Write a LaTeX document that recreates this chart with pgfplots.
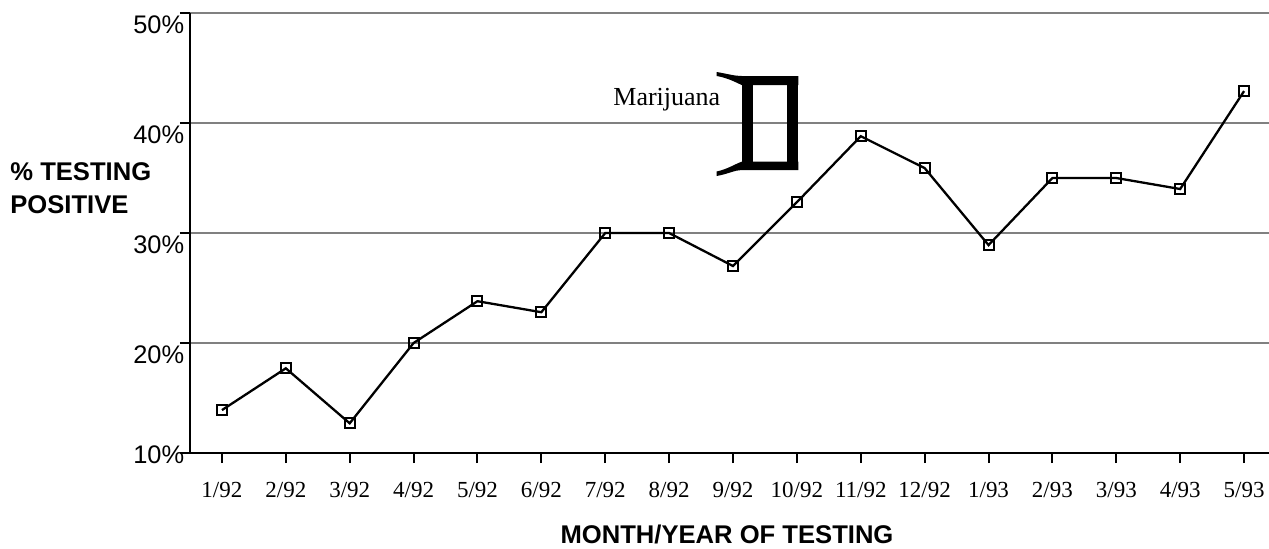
\documentclass[border=0pt]{standalone}
\usepackage{pgfplots}
\pgfplotsset{compat=1.18}
\usepackage{fontspec}
\setmainfont{Liberation Serif}
\setsansfont{Liberation Sans}
\definecolor{gridgray}{RGB}{128,128,128}
\begin{document}
\begin{tikzpicture}
\begin{axis}[
  scale only axis, width=539.5pt, height=220pt,
  xmin=-0.5, xmax=16.39, ymin=10, ymax=50,
  axis x line=bottom, axis y line=left,
  axis line style={-, line width=1pt, black},
  xtick={0,...,16},
  xticklabels={1/92,2/92,3/92,4/92,5/92,6/92,7/92,8/92,9/92,10/92,11/92,12/92,1/93,2/93,3/93,4/93,5/93},
  ytick={20,30,40,50}, yticklabels={20\%,30\%,40\%,50\%},
  extra y ticks={10}, extra y tick labels={10\%},
  extra y tick style={grid=none, yticklabel style={yshift=5pt}},
  tick align=outside, major tick length=5pt,
  tick style={line width=1pt, black},
  ymajorgrids, major grid style={line width=1pt, gridgray},
  xticklabel style={font=\fontsize{11.5}{12}\selectfont, yshift=-6pt},
  yticklabel style={font=\sffamily\fontsize{12.7}{14}\selectfont, anchor=east, xshift=5.6pt, yshift=-6pt},
  ylabel={\% TESTING\\POSITIVE},
  every axis y label/.style={at={(rel axis cs:-0.1668,0.601)}, anchor=west, inner sep=0pt, align=left, font=\sffamily\bfseries\fontsize{12.8}{16.5}\selectfont},
  xlabel={MONTH/YEAR OF TESTING},
  every axis x label/.style={at={(rel axis cs:0.4977,-0.186)}, anchor=center, inner sep=0pt, font=\sffamily\bfseries\fontsize{12.8}{15}\selectfont},
  clip=false,
]
\addplot[black, line width=1.15pt, mark=square, mark size=2.5pt, mark options={solid, line width=1pt}] coordinates {
(0,13.9) (1,17.7) (2,12.7) (3,20) (4,23.8) (5,22.8) (6,30) (7,30) (8,27.0)
(9,32.8) (10,38.8) (11,35.9) (12,28.9) (13,35) (14,35) (15,34) (16,42.9)
};
\end{axis}
\begin{scope}[shift={(current axis.south west)}, xshift=-95pt, yshift=226.5pt, x=0.5pt, y=-0.5pt]
\node[anchor=base west, inner sep=0pt, font=\fontsize{13}{15}\selectfont] at (613,105) {Marijuana};
% top serif bar
\fill[black] (716.7,72) .. controls (728,74) and (735,76) .. (741.7,76) -- (798.3,76) -- (798.3,85) -- (741.7,85) .. controls (735,82) and (728,78) .. (716.7,76) -- cycle;
% bottom serif bar
\fill[black] (716.7,176) .. controls (728,174) and (735,170) .. (741.7,170) -- (798.3,170) -- (798.3,161.7) -- (741.7,161.7) .. controls (735,164) and (728,169) .. (716.7,171.5) -- cycle;
% stems
\fill[black] (741.7,76) rectangle (753.3,170);
\fill[black] (786.7,76) rectangle (798.3,170);
\pgfresetboundingbox
\path (0,0) rectangle (1269,548);
\end{scope}
\end{tikzpicture}
\end{document}
